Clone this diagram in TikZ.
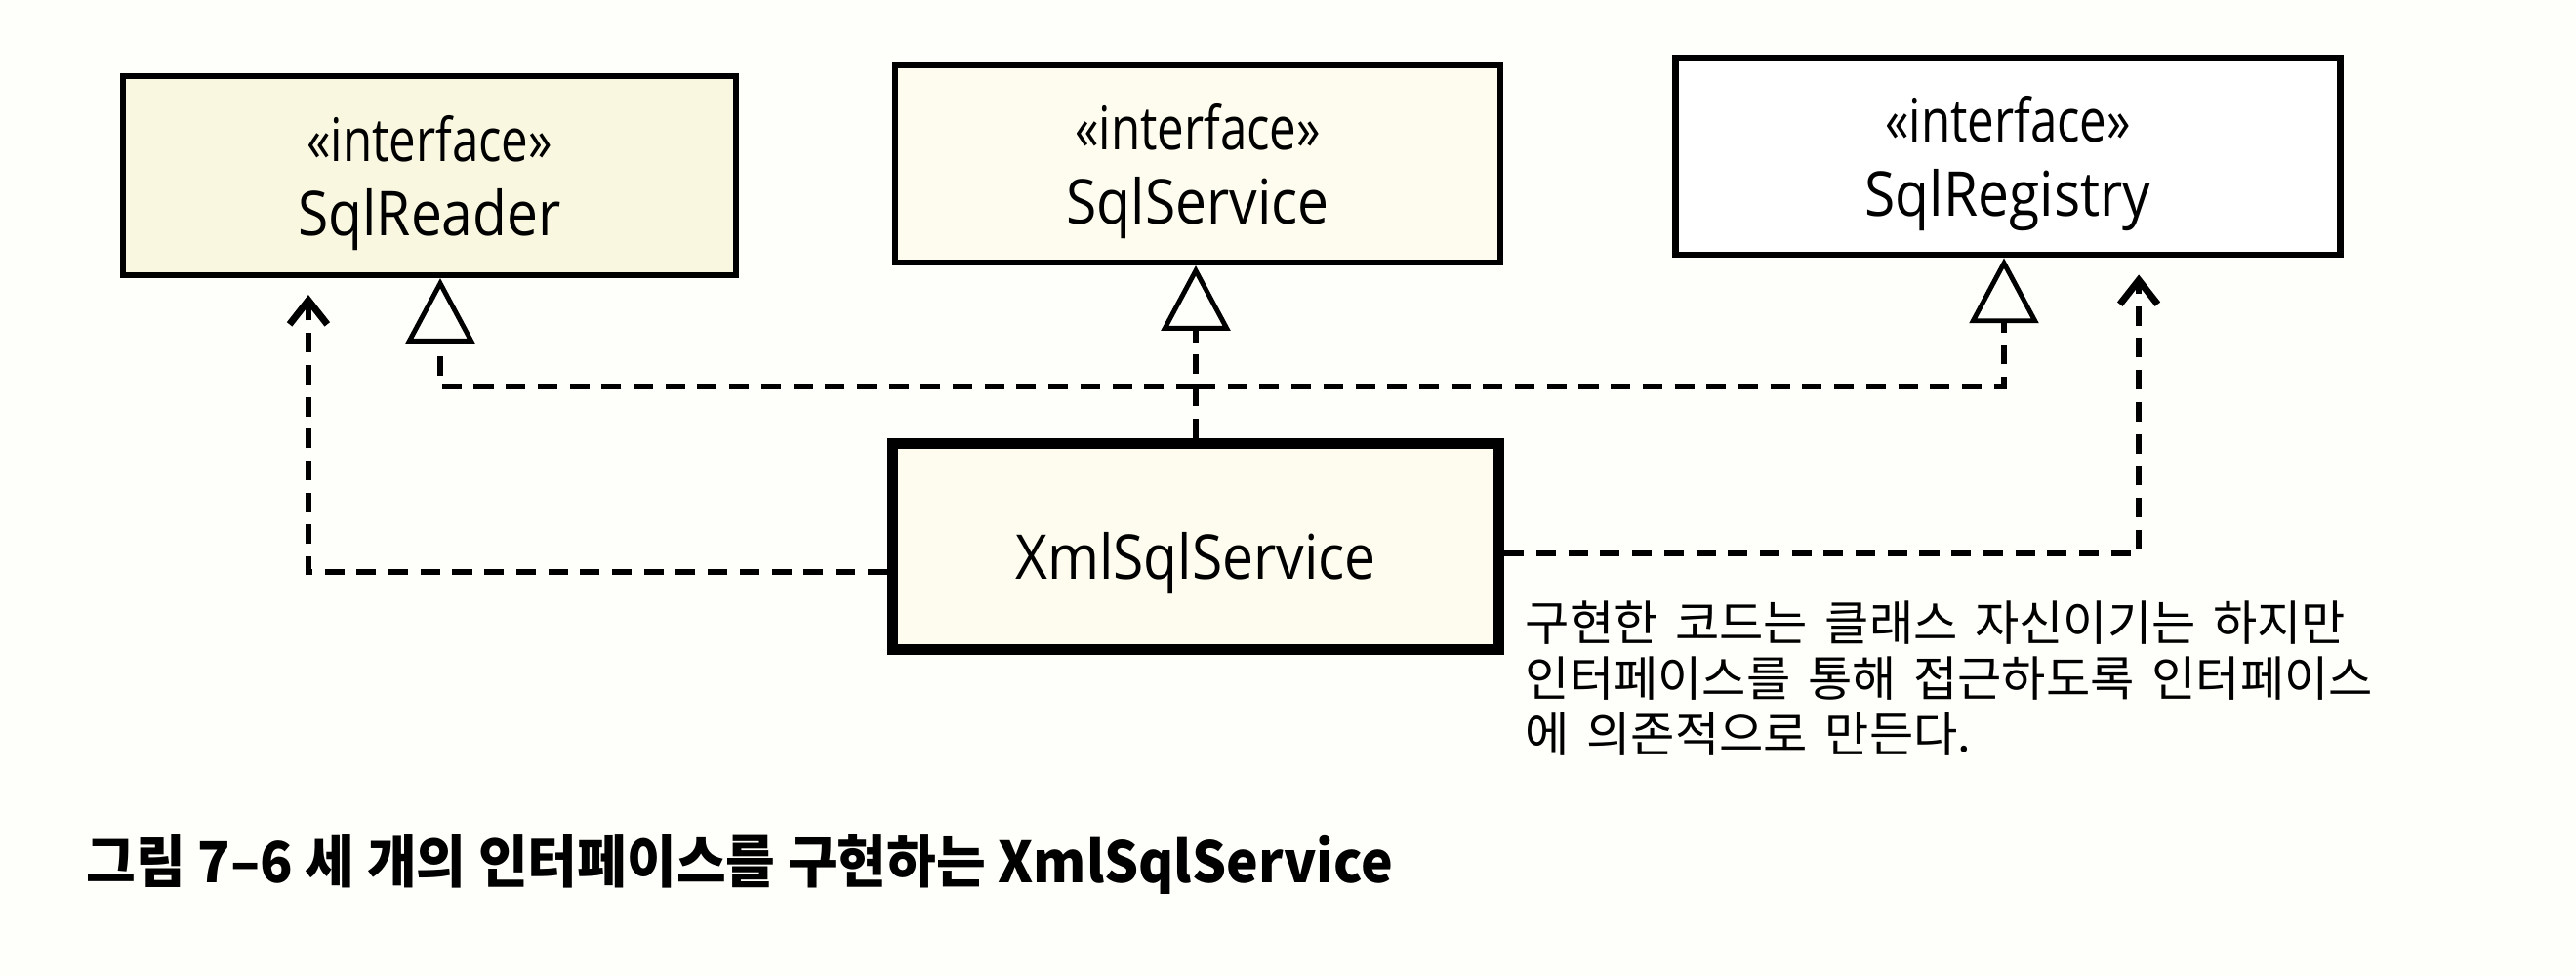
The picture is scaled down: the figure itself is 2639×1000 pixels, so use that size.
\documentclass[tikz,border=0pt]{standalone}
\usepackage{fontspec}
\usetikzlibrary{arrows.meta,calc}
\newfontfamily\boxfont[FakeStretch=0.9]{Open Sans}
\newfontfamily\stereofont[FakeStretch=0.8]{Open Sans}
\newfontfamily\krfont[WordSpace=1.6]{Noto Sans CJK KR}
\newfontfamily\krcap[FakeStretch=0.95]{Noto Sans CJK KR}
\definecolor{bgc}{HTML}{FEFEFA}
\definecolor{fillA}{HTML}{F9F7DF}
\definecolor{fillB}{HTML}{FDFCEF}
\definecolor{fillC}{HTML}{FFFFFF}
\newcommand{\stereo}{{\stereofont\fontsize{17.5}{21.6}\selectfont «interface»}}
\begin{document}
\begin{tikzpicture}[x=0.01cm,y=-0.01cm,
  cls/.style={draw=black, line width=1.7pt, align=center, inner sep=0pt, text depth=0pt,
    font=\boxfont\fontsize{18}{21.6}\selectfont},
  realize/.style={line width=1.8pt, dash pattern=on 5.7pt off 3.6pt,
    -{Triangle[open,length=19pt,width=20pt,line width=1.4pt]}},
  dep/.style={line width=1.8pt, dash pattern=on 5.7pt off 3.6pt,
    -{Straight Barb[length=7pt,width=11pt,line width=2pt]}, shorten >=0.17cm},
  note/.style={align=left, inner sep=0pt, font=\krfont\fontsize{14}{16.2}\selectfont},
  caption/.style={inner sep=0pt, font=\krcap\bfseries\fontsize{16.5}{19}\selectfont}]
\fill[bgc] (0,0) rectangle (2639,1000);
\useasboundingbox (0,0) rectangle (2639,1000);

\node[cls, fill=fillA, minimum width=6.28cm, minimum height=2.04cm] (reader) at (440,180) {\stereo\\SqlReader};
\node[cls, fill=fillB, minimum width=6.20cm, minimum height=2.02cm] (service) at (1227,168) {\stereo\\SqlService};
\node[cls, fill=fillC, line width=1.9pt, minimum width=6.80cm, minimum height=2.02cm] (registry) at (2057,160) {\stereo\\SqlRegistry};
\node[cls, fill=fillB, line width=3.2pt, text height=0.66cm, minimum width=6.21cm, minimum height=2.11cm] (xml) at (1225,560) {XmlSqlService};

% realization: XmlSqlService -> SqlService, branching to SqlReader and SqlRegistry
\draw[realize] (xml.north) -- (xml.north |- service.south);
\coordinate (j) at ($(xml.north)!0.3!(xml.north |- service.south)$);
\draw[realize] (j) -| ([xshift=0.11cm]reader.south);
\draw[realize] (j) -| ([xshift=-0.04cm]registry.south);

% dependencies
\draw[dep] ([yshift=-0.26cm]xml.west) -| ([xshift=-1.24cm]reader.south);
\draw[dep] ([yshift=-0.07cm]xml.east) -| ([xshift=1.34cm]registry.south);

\node[note, anchor=north west] (txt) at (1562,615) {구현한 코드는 클래스 자신이기는 하지만\\인터페이스를 통해 접근하도록 인터페이스\\에 의존적으로 만든다.};

\node[caption, anchor=base west] (cap) at (88,904) {그림 7–6 세 개의 인터페이스를 구현하는 XmlSqlService};
\end{tikzpicture}
\end{document}
